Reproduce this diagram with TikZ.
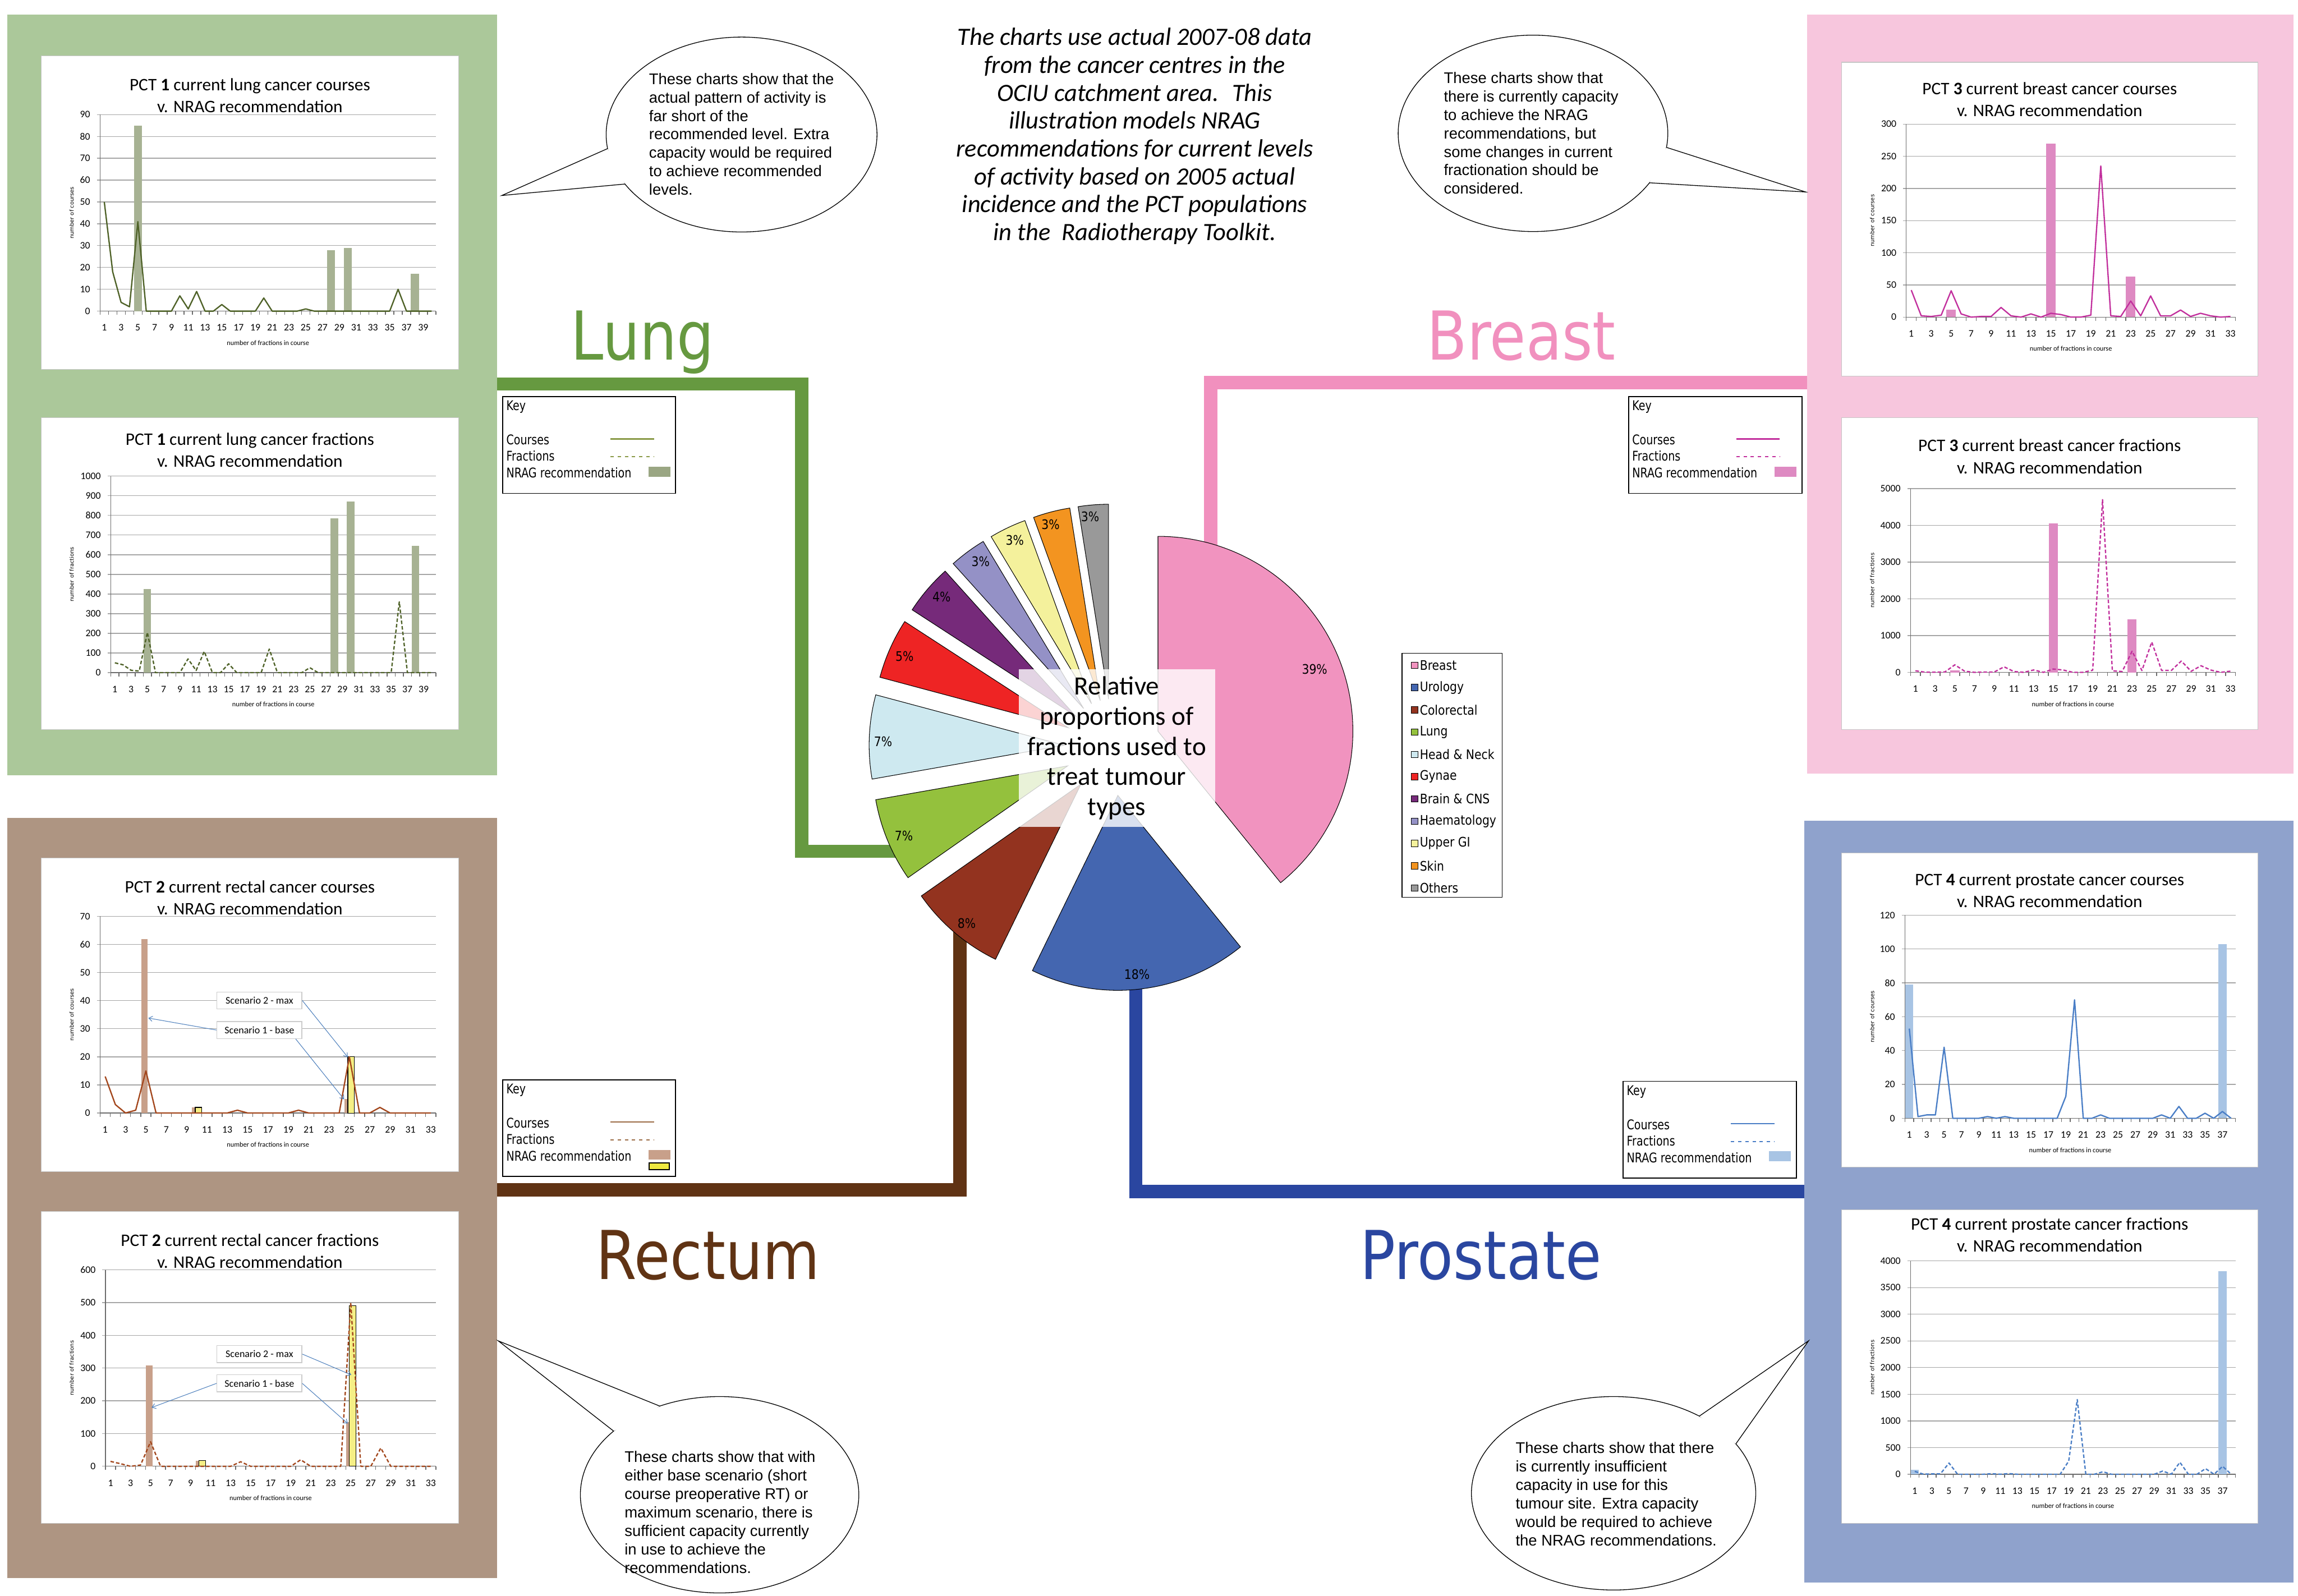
\documentclass[tikz,border=0pt]{standalone}
\usepackage{fontspec}
\setmainfont{Carlito}
\newfontfamily\verdfont{DejaVu Sans}
\newfontfamily\arialfont{Liberation Sans}
\usetikzlibrary{shapes.geometric,arrows.meta}

% panel and chart colours
\definecolor{lungbg}{HTML}{ABC89A}
\definecolor{lungdark}{HTML}{669940}
\definecolor{lungline}{HTML}{4F6228}
\definecolor{lungbar}{HTML}{A7B293}
\definecolor{lungkey}{HTML}{8A9A48}
\definecolor{breastbg}{HTML}{F7C6DD}
\definecolor{breastdark}{HTML}{F190BE}
\definecolor{breastline}{HTML}{C2309D}
\definecolor{breastbar}{HTML}{DE8AC2}
\definecolor{rectbg}{HTML}{AE9582}
\definecolor{rectdark}{HTML}{603314}
\definecolor{rectline}{HTML}{A3471D}
\definecolor{rectkey}{HTML}{9A6A44}
\definecolor{rectbar}{HTML}{C8A08A}
\definecolor{scenyel}{HTML}{F5EF85}
\definecolor{keyyel}{HTML}{EEE840}
\definecolor{scenblue}{HTML}{4F81BD}
\definecolor{prostbg}{HTML}{8FA2CC}
\definecolor{prostdark}{HTML}{2A46A0}
\definecolor{prostline}{HTML}{4A7EC6}
\definecolor{prostbar}{HTML}{A8C4E4}
% pie colours
\definecolor{cbreast}{HTML}{F193BF}
\definecolor{curol}{HTML}{4466B0}
\definecolor{ccolo}{HTML}{93331F}
\definecolor{clung}{HTML}{94C13D}
\definecolor{chn}{HTML}{CEE9F0}
\definecolor{cgyn}{HTML}{EE2424}
\definecolor{cbrain}{HTML}{762A7A}
\definecolor{chaem}{HTML}{9491C6}
\definecolor{cugi}{HTML}{F4F19C}
\definecolor{cskin}{HTML}{F39420}
\definecolor{cother}{HTML}{999999}

\tikzset{panel/.style={inner sep=0pt, outer sep=0pt},
    chartbox/.style={draw=gray!45, fill=white, line width=0.4pt, inner sep=0pt},
    gridline/.style={draw=gray!70, line width=0.5pt},
    axisline/.style={draw=gray!85!black, line width=0.5pt},
    ylab/.style={anchor=east, inner sep=0pt, font=\fontsize{6.8}{8}\selectfont},
    xlab/.style={anchor=base, inner sep=0pt, font=\fontsize{6.8}{8}\selectfont},
    ctitle/.style={align=center, inner sep=0pt, font=\fontsize{12}{15}\selectfont},
    xtitle/.style={inner sep=0pt, font=\fontsize{4.7}{6}\selectfont},
    ytitle/.style={inner sep=0pt, rotate=90, font=\verdfont\fontsize{3.8}{5}\selectfont},
    plotframe/.style={shift={(\pleft,\pzero)}, xscale=\psx, yscale=-\psy},
    courses/.style={line width=0.9pt, line join=round},
    fractions/.style={courses, dash pattern=on 2.4pt off 1.4pt},
    callout/.style={draw=gray!40, fill=white, line width=0.5pt, inner sep=0pt,
        minimum width=58pt, minimum height=11.6pt, font=\fontsize{6.9}{8}\selectfont},
    callarrow/.style={draw=scenblue, line width=0.4pt, -{Straight Barb[length=2.5pt,width=3.5pt]}},
    conn/.style={line width=9pt},
    slice/.style={draw=black, line width=0.4pt},
    pct/.style={inner sep=0pt, font=\verdfont\fontsize{7.8}{9}\selectfont},
    legtext/.style={anchor=west, inner sep=0pt, font=\verdfont\fontsize{7.8}{9}\selectfont},
    legmark/.style={draw=black, line width=0.4pt, minimum size=4.4pt, inner sep=0pt},
    keybox/.style={draw=black, fill=white, line width=0.7pt, inner sep=0pt},
    keytext/.style={anchor=west, inner sep=0pt, font=\verdfont\fontsize{7.3}{8}\selectfont},
    biglabel/.style={anchor=base, inner sep=0pt, font=\verdfont\fontsize{46}{50}\selectfont},
    bubble/.style={ellipse, draw=black, fill=white, line width=0.5pt, inner sep=0pt, outer sep=0pt},
    bubtext/.style={anchor=north west, align=left, inner sep=0pt,
        font=\arialfont\fontsize{10.5}{12.6}\selectfont},
    }

\newcommand{\tall}[1]{\scalebox{1}[1.25]{#1}}
\newcommand{\lift}[1]{\scalebox{1}[1.15]{#1}}
\newcommand{\slim}[1]{\scalebox{0.87}[1]{#1}}

% plot area: left, right, top, zero line, categories, max value
\newcommand{\plotarea}[6]{%
    \def\pleft{#1}\def\pright{#2}\def\ptop{#3}\def\pzero{#4}\def\pcats{#5}\def\pmax{#6}%
    \pgfmathsetmacro\psx{(#2-#1)/#5}%
    \pgfmathsetmacro\psy{(#4-#3)/#6}}

% grid, axes and labels of a plot area
\newcommand{\chartgrid}[4]{%
    \foreach \v in {#1} {
        \draw[gridline] (\pleft-2.2,{\pzero-\v*\psy}) -- (\pright,{\pzero-\v*\psy});
        \node[ylab] at (\pleft-6.6,{\pzero-\v*\psy}) {\v};
    }
    \draw[axisline] (\pleft,\ptop) -- (\pleft,\pzero) -- (\pright,\pzero);
    \foreach \i in {0,...,\pcats}
        \draw[axisline] ({\pleft+\i*\psx},\pzero) -- ({\pleft+\i*\psx},\pzero+2.5);
    \foreach \i in {1,3,...,#2}
        \node[xlab] at ({\pleft+(\i-0.5)*\psx},\pzero+13.5) {\i};
    \node[xtitle] at ({(\pleft+\pright)/2},\pzero+21.6) {number of fractions in course};
    \node[ytitle] at (#4,{(\ptop+\pzero)/2}) {#3};
}

% key box: name, left, top, width, line colour, bar colour
\newcommand{\keybox}[6]{%
    \node[keybox, anchor=north west, minimum width=#4pt, minimum height=66pt] (#1) at (#2,#3) {};
    \node[keytext] (#1a) at (#2+2.6,#3+7.5) {\tall{Key}};
    \node[keytext] (#1b) at (#2+2.6,#3+29.9) {\tall{Courses}};
    \node[keytext] (#1c) at (#2+2.6,#3+40.9) {\tall{Fractions}};
    \node[keytext] (#1d) at (#2+2.6,#3+52.3) {\tall{NRAG recommendation}};
    \draw[draw=#5, line width=0.9pt] (#2+73.8,#3+29.2) -- (#2+103.5,#3+29.2);
    \draw[draw=#5, line width=0.9pt, dash pattern=on 2.3pt off 2.6pt] (#2+73.8,#3+41.4) -- (#2+103.5,#3+41.4);
    \fill[#6] (#2+99.8,#3+48.2) rectangle (#2+114.7,#3+55);
}

\begin{document}
\begin{tikzpicture}[x=1pt, y=-1pt]
\useasboundingbox (0,0) rectangle (1568,1089);
\fill[white] (0,0) rectangle (1568,1089);

% panels
\node[panel, fill=lungbg, minimum width=334pt, minimum height=519pt] (lungP) at (172,269.5) {};
\node[panel, fill=rectbg, minimum width=334pt, minimum height=519pt] (rectP) at (172,817.5) {};
\node[panel, fill=breastbg, minimum width=332pt, minimum height=518pt] (breastP) at (1399,269) {};
\node[panel, fill=prostbg, minimum width=334pt, minimum height=520pt] (prostP) at (1398,820) {};

% lung courses
\node[chartbox, minimum width=285pt, minimum height=214pt] (lungC1) at (170.5,145) {};
\node[ctitle] (lungT1) at (170.5,65.3) {PCT \textbf{1} current lung cancer courses\\v. NRAG recommendation};
\plotarea{68.3}{297.4}{78.2}{212.3}{40}{90}
\chartgrid{0,10,...,90}{39}{number of courses}{48.9}
\begin{scope}[plotframe]
    \foreach \c/\v in {5/85,28/28,30/29,38/17}
        \fill[lungbar] (\c-0.97,0) rectangle (\c-0.03,\v);
    \draw[courses, lungline] (0.5,50) \foreach \v [count=\i] in {50,18,4,2,41,0,0,0,0,7,1,9,0,0,3,0,0,0,0,6,0,0,0,0,1,0,0,0,0,0,0,0,0,0,0,10,0,0,0,0} { -- (\i-0.5,\v) };
\end{scope}

% lung fractions
\node[chartbox, minimum width=285pt, minimum height=213pt] (lungC2) at (170.5,391.5) {};
\node[ctitle] (lungT2) at (170.5,307.1) {PCT \textbf{1} current lung cancer fractions\\v. NRAG recommendation};
\plotarea{75.6}{297.4}{324.9}{459.0}{40}{1000}
\chartgrid{0,100,...,1000}{39}{number of fractions}{48.9}
\begin{scope}[plotframe]
    \foreach \c/\v in {5/425,28/784,30/870,38/646}
        \fill[lungbar] (\c-0.97,0) rectangle (\c-0.03,\v);
    \draw[fractions, lungline] (0.5,50) \foreach \v [count=\i] in {50,20,4,2,41,0,0,0,0,7,1,9,0,0,3,0,0,0,0,6,0,0,0,0,1,0,0,0,0,0,0,0,0,0,0,10,0,0,0,0} { -- (\i-0.5,\i*\v) };
\end{scope}

% breast courses
\node[chartbox, minimum width=284pt, minimum height=214pt] (breastC1) at (1398.5,149.5) {};
\node[ctitle] (breastT1) at (1398.5,67.7) {PCT \textbf{3} current breast cancer courses\\v. NRAG recommendation};
\plotarea{1300.7}{1525.3}{84.7}{216.4}{33}{300}
\chartgrid{0,50,...,300}{33}{number of courses}{1277.4}
\begin{scope}[plotframe]
    \foreach \c/\v in {5/12,15/270,23/63}
        \fill[breastbar] (\c-0.97,0) rectangle (\c-0.03,\v);
    \draw[courses, breastline] (0.5,42) \foreach \v [count=\i] in {42,2,1,3,41,5,0,1,1,15,2,0,5,0,6,4,0,0,3,235,2,1,25,2,33,2,2,11,1,6,2,0,1} { -- (\i-0.5,\v) };
\end{scope}

% breast fractions
\node[chartbox, minimum width=284pt, minimum height=213pt] (breastC2) at (1398.5,391.5) {};
\node[ctitle] (breastT2) at (1398.5,311.5) {PCT \textbf{3} current breast cancer fractions\\v. NRAG recommendation};
\plotarea{1303.6}{1525.3}{333.4}{458.8}{33}{5000}
\chartgrid{0,1000,...,5000}{33}{number of fractions}{1277.4}
\begin{scope}[plotframe]
    \foreach \c/\v in {5/60,15/4050,23/1450}
        \fill[breastbar] (\c-0.97,0) rectangle (\c-0.03,\v);
    \draw[fractions, breastline] (0.5,42) \foreach \v [count=\i] in {42,2,1,3,41,5,0,1,1,15,2,0,5,0,6,4,0,0,3,235,2,1,25,2,33,2,2,11,1,6,2,0,1} { -- (\i-0.5,\i*\v) };
\end{scope}

% rectal courses
\node[chartbox, minimum width=285pt, minimum height=214pt] (rectC1) at (170.5,692.5) {};
\node[ctitle] (rectT1) at (170.5,612.7) {PCT \textbf{2} current rectal cancer courses\\v. NRAG recommendation};
\plotarea{68.3}{297.4}{625.3}{759.5}{33}{70}
\chartgrid{0,10,...,70}{33}{number of courses}{48.9}
\begin{scope}[plotframe]
    \foreach \c/\v in {5/62,10/2,25/5}
        \fill[rectbar] (\c-0.97,0) rectangle (\c-0.32,\v);
    \foreach \c/\v in {10/2,25/20}
        \filldraw[fill=scenyel, draw=black, line width=0.4pt] (\c-0.65,0) rectangle (\c,\v);
    \draw[courses, rectline] (0.5,13) \foreach \v [count=\i] in {13,3,0,1,15,0,0,0,0,0,0,0,0,1,0,0,0,0,0,1,0,0,0,0,20,0,0,2,0,0,0,0,0} { -- (\i-0.5,\v) };
\end{scope}
\node[callout] (rectS2) at (177,682.7) {Scenario 2 - max};
\node[callout] (rectS1) at (177,702.9) {Scenario 1 - base};
\coordinate (rectA1) at (101.2,694.7);
\coordinate (rectA2) at (234.8,750.2);
\coordinate (rectA3) at (237.3,721.4);
\draw[callarrow] (rectS1.west) -- (rectA1);
\draw[callarrow] ([xshift=-4.5pt]rectS1.south east) -- (rectA2);
\draw[callarrow] (rectS2.east) -- (rectA3);

% rectal fractions
\node[chartbox, minimum width=285pt, minimum height=213pt] (rectC2) at (170.5,933) {};
\node[ctitle] (rectT2) at (170.5,853.7) {PCT \textbf{2} current rectal cancer fractions\\v. NRAG recommendation};
\plotarea{72.0}{297.4}{866.5}{1000.6}{33}{600}
\chartgrid{0,100,...,600}{33}{number of fractions}{48.9}
\begin{scope}[plotframe]
    \foreach \c/\v in {5/308,10/17,25/135}
        \fill[rectbar] (\c-0.97,0) rectangle (\c-0.32,\v);
    \foreach \c/\v in {10/17,25/490}
        \filldraw[fill=scenyel, draw=black, line width=0.4pt] (\c-0.65,0) rectangle (\c,\v);
    \draw[fractions, rectline] (0.5,15) \foreach \v [count=\i] in {15,4,0,1,15,0,0,0,0,0,0,0,0,1,0,0,0,0,0,1,0,0,0,0,20,0,0,2,0,0,0,0,0} { -- (\i-0.5,\i*\v) };
\end{scope}
\node[callout] (rectS4) at (177,924) {Scenario 2 - max};
\node[callout] (rectS3) at (177,944) {Scenario 1 - base};
\coordinate (rectA4) at (103.4,960.5);
\coordinate (rectA5) at (237.3,971.4);
\coordinate (rectA6) at (239.7,938.2);
\draw[callarrow] (rectS3.west) -- (rectA4);
\draw[callarrow] (rectS3.east) -- (rectA5);
\draw[callarrow] (rectS4.east) -- (rectA6);

% prostate courses
\node[chartbox, minimum width=284pt, minimum height=214.5pt] (prostC1) at (1398.5,689.3) {};
\node[ctitle] (prostT1) at (1398.5,607.8) {PCT \textbf{4} current prostate cancer courses\\v. NRAG recommendation};
\plotarea{1299.8}{1525.3}{624.5}{763.1}{38}{120}
\chartgrid{0,20,...,120}{37}{number of courses}{1277.4}
\begin{scope}[plotframe]
    \foreach \c/\v in {1/79,37/103}
        \fill[prostbar] (\c-0.97,0) rectangle (\c-0.03,\v);
    \draw[courses, prostline] (0.5,53) \foreach \v [count=\i] in {53,1,2,2,42,0,0,0,0,1,0,1,0,0,0,0,0,0,13,70,0,0,2,0,0,0,0,0,0,2,0,7,0,0,3,0,4,0} { -- (\i-0.5,\v) };
\end{scope}

% prostate fractions
\node[chartbox, minimum width=284pt, minimum height=214pt] (prostC2) at (1398.5,932.5) {};
\node[ctitle] (prostT2) at (1398.5,842.7) {PCT \textbf{4} current prostate cancer fractions\\v. NRAG recommendation};
\plotarea{1303.6}{1525.3}{860.4}{1006.0}{38}{4000}
\chartgrid{0,500,...,4000}{37}{number of fractions}{1277.4}
\begin{scope}[plotframe]
    \foreach \c/\v in {1/80,37/3810}
        \fill[prostbar] (\c-0.97,0) rectangle (\c-0.03,\v);
    \draw[fractions, prostline] (0.5,53) \foreach \v [count=\i] in {53,1,2,2,42,0,0,0,0,1,0,1,0,0,0,0,0,0,13,70,0,0,2,0,0,0,0,0,0,2,0,7,0,0,3,0,4,0} { -- (\i-0.5,\i*\v) };
\end{scope}

% connectors from the panels to the pie
\coordinate (lungK) at (547,262);
\coordinate (lungS) at (614,581);
\coordinate (breastK) at (826,261);
\coordinate (breastS) at (826,372);
\coordinate (rectK) at (655,812);
\coordinate (rectS) at (655,636);
\coordinate (prostK) at (775,813);
\coordinate (prostS) at (775,675);
\draw[conn, lungdark] (lungP.east |- lungK) -- (lungK) |- (lungS);
\draw[conn, breastdark] (breastP.west |- breastK) -- (breastK) -- (breastS);
\draw[conn, rectdark] (rectP.east |- rectK) -- (rectK) -- (rectS);
\draw[conn, prostdark] (prostP.west |- prostK) -- (prostK) -- (prostS);

% exploded pie
\begin{scope}[shift={(759,510)}, y=1pt]
    \foreach \a/\b/\c in {90/-51/cbreast, -51/-116/curol, -116/-145/ccolo, -145/-170/clung,
            -170/-195/chn, 165/147/cgyn, 147/132/cbrain, 132/121/chaem, 121/110/cugi,
            110/99/cskin, 99/90/cother} {
        \pgfmathsetmacro{\m}{(\a+\b)/2}
        \filldraw[slice, fill=\c] (\m:33) -- ++(\a:133) arc[start angle=\a, end angle=\b, radius=133] -- cycle;
    }
\end{scope}
\node[pct] (pBreast) at (897,456.7) {\lift{39\%}};
\node[pct] (pUrol) at (775.8,665) {\lift{18\%}};
\node[pct] (pColo) at (659.6,630) {\lift{8\%}};
\node[pct] (pLung) at (616.7,570.5) {\lift{7\%}};
\node[pct] (pHN) at (602.6,506.2) {\lift{7\%}};
\node[pct] (pGyn) at (617.2,447.9) {\lift{5\%}};
\node[pct] (pBrain) at (642.5,407.2) {\lift{4\%}};
\node[pct] (pHaem) at (669.1,383) {\lift{3\%}};
\node[pct] (pUgi) at (692.4,368.7) {\lift{3\%}};
\node[pct] (pSkin) at (716.8,358.1) {\lift{3\%}};
\node[pct] (pOther) at (743.8,352.6) {\lift{3\%}};
\node[fill=white, fill opacity=0.8, text opacity=1, align=center, inner sep=0pt,
    minimum width=134pt, minimum height=107.6pt, font=\fontsize{18}{20.6}\selectfont]
    (pieT) at (762,510.5) {Relative\\proportions of\\fractions used to\\treat tumour\\types};

% legend of the pie
\node[draw=black, line width=0.6pt, fill=white, inner sep=0pt, minimum width=68.2pt,
    minimum height=166.6pt] (legend) at (990.8,529) {};
\foreach \c/\t [count=\k] in {cbreast/Breast, curol/Urology, ccolo/Colorectal, clung/Lung,
        chn/Head \& Neck, cgyn/Gynae, cbrain/Brain \& CNS, chaem/Haematology, cugi/Upper GI,
        cskin/Skin, cother/Others} {
    \node[legmark, fill=\c] (legM\k) at (965.2,{454+15.2*(\k-1)}) {};
    \node[legtext] (legT\k) at (968.6,{454+15.2*(\k-1)}) {\lift{\t}};
}

% keys
\keybox{lungKey}{342.7}{270.3}{118}{lungkey}{lungbar!85!lungline}
\keybox{breastKey}{1110.9}{270.3}{118.3}{breastline}{breastbar}
\keybox{rectKey}{342.7}{736.4}{118}{rectkey}{rectbar}
\filldraw[fill=keyyel, draw=black, line width=0.7pt] (442.8,793.7) rectangle (456.6,798.3);
\keybox{prostKey}{1107.2}{737.5}{118.3}{prostline}{prostbar}

% tumour site labels
\node[biglabel, lungdark] (lungL) at (438.5,245.4) {\slim{Lung}};
\node[biglabel, breastdark] (breastL) at (1038,245.4) {\slim{Breast}};
\node[biglabel, rectdark] (rectL) at (483,873) {\slim{Rectum}};
\node[biglabel, prostdark] (prostL) at (1010.5,873) {\slim{Prostate}};

% speech bubbles
\node[bubble, minimum width=184.8pt, minimum height=133pt] (lungB) at (506,91.8) {};
\coordinate (lungBt) at (342.4,133.4);
\fill[white] (lungB.186) -- (lungBt) -- (lungB.203) -- cycle;
\draw[line width=0.5pt] (lungB.186) -- (lungBt) -- (lungB.203);
\node[bubtext] (lungBx) at (442.7,49.7) {These charts show that the\\actual pattern of activity is\\far short of the\\recommended level. Extra\\capacity would be required\\to achieve recommended\\levels.};

\node[bubble, minimum width=184pt, minimum height=134pt] (breastB) at (1046,91) {};
\coordinate (breastBt) at (1232,131);
\fill[white] (breastB.354) -- (breastBt) -- (breastB.337) -- cycle;
\draw[line width=0.5pt] (breastB.354) -- (breastBt) -- (breastB.337);
\node[bubtext] (breastBx) at (985,49) {These charts show that\\there is currently capacity\\to achieve the NRAG\\recommendations, but\\some changes in current\\fractionation should be\\considered.};

\node[bubble, minimum width=190pt, minimum height=134pt] (rectB) at (491,1020) {};
\coordinate (rectBt) at (340,915);
\fill[white] (rectB.149) -- (rectBt) -- (rectB.124) -- cycle;
\draw[line width=0.5pt] (rectB.149) -- (rectBt) -- (rectB.124);
\node[bubtext] (rectBx) at (426,990) {These charts show that with\\either base scenario (short\\course preoperative RT) or\\maximum scenario, there is\\sufficient capacity currently\\in use to achieve the\\recommendations.};

\node[bubble, minimum width=194pt, minimum height=132pt] (prostB) at (1101,1019) {};
\coordinate (prostBt) at (1234,915);
\fill[white] (prostB.42) -- (prostBt) -- (prostB.22) -- cycle;
\draw[line width=0.5pt] (prostB.42) -- (prostBt) -- (prostB.22);
\node[bubtext] (prostBx) at (1034,984) {These charts show that there\\is currently insufficient\\capacity in use for this\\tumour site. Extra capacity\\would be required to achieve\\the NRAG recommendations.};

% note at the top
\node[anchor=north, align=center, inner sep=0pt, font=\itshape\fontsize{17}{19}\selectfont]
    (note) at (774.3,19) {The charts use actual 2007-08 data\\from the cancer centres in the\\OCIU catchment area.~ This\\illustration models NRAG\\recommendations for current levels\\of activity based on 2005 actual\\incidence and the PCT populations\\in the~ Radiotherapy Toolkit.};
\end{tikzpicture}
\end{document}
